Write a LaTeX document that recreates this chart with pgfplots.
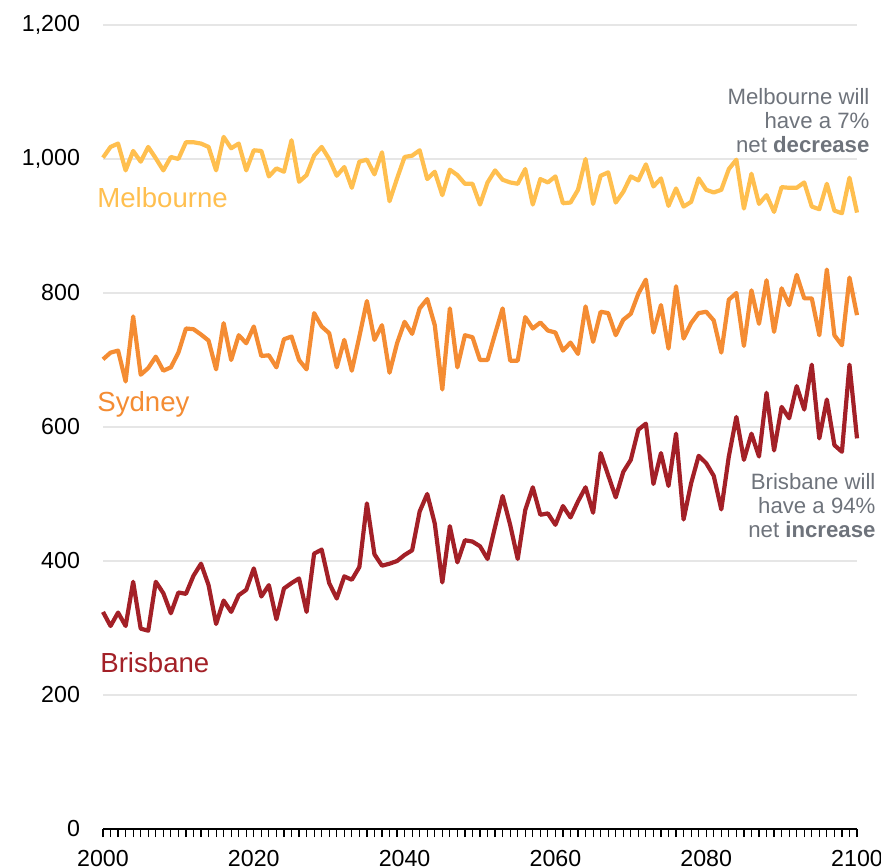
\documentclass[border=0pt]{standalone}
\usepackage{pgfplots}
\pgfplotsset{compat=1.18}
\usepackage{pgfplotstable}
\usepackage{fontspec}
\setmainfont{Liberation Sans}
\definecolor{mel}{HTML}{FFBF4F}
\definecolor{syd}{HTML}{F48C33}
\definecolor{bri}{HTML}{A32027}
\definecolor{ann}{HTML}{6E737B}
\definecolor{gridc}{HTML}{E6E6E6}
\pgfplotstableread{
year mel syd bri
2000 1002 701 324
2001 1018 711 303
2002 1023 714 323
2003 983 668 303
2004 1012 765 369
2005 996 678 299
2006 1018 688 296
2007 1001 705 369
2008 983 684 352
2009 1003 689 322
2010 1000 711 353
2011 1025 747 351
2012 1025 746 378
2013 1023 738 396
2014 1018 729 364
2015 983 686 306
2016 1033 755 341
2017 1016 700 324
2018 1023 737 349
2019 983 725 357
2020 1013 750 389
2021 1012 706 347
2022 974 707 364
2023 986 689 313
2024 981 731 359
2025 1028 735 367
2026 966 700 374
2027 976 686 324
2028 1005 770 411
2029 1018 750 417
2030 1000 740 367
2031 975 689 344
2032 988 730 377
2033 957 684 372
2034 996 735 391
2035 999 788 486
2036 977 730 410
2037 1010 752 393
2038 937 681 396
2039 971 725 400
2040 1003 757 409
2041 1005 739 416
2042 1013 777 474
2043 970 791 500
2044 981 752 456
2045 946 656 368
2046 984 777 452
2047 976 689 398
2048 963 737 431
2049 963 734 429
2050 932 700 422
2051 965 700 403
2052 983 739 451
2053 969 777 497
2054 965 699 454
2055 963 699 403
2056 985 764 476
2057 932 747 510
2058 970 756 469
2059 965 744 471
2060 974 741 454
2061 934 714 482
2062 935 726 465
2063 954 709 489
2064 1000 780 510
2065 933 727 472
2066 975 772 561
2067 980 770 528
2068 935 737 495
2069 951 760 533
2070 974 769 551
2071 968 799 596
2072 992 820 605
2073 959 741 515
2074 971 782 561
2075 930 717 512
2076 956 810 590
2077 929 732 462
2078 936 755 516
2079 971 770 557
2080 954 772 546
2081 950 759 527
2082 954 711 477
2083 985 790 556
2084 999 800 615
2085 926 721 551
2086 978 804 590
2087 933 754 556
2088 946 819 651
2089 921 742 565
2090 958 807 630
2091 957 782 613
2092 957 827 661
2093 965 792 626
2094 929 792 693
2095 925 737 583
2096 963 835 641
2097 923 737 573
2098 919 722 563
2099 972 823 693
2100 920 767 583
}\datatable
\begin{document}
\begin{tikzpicture}
\useasboundingbox (-51.5pt,-19pt) rectangle (389pt,414.5pt);
\begin{axis}[
  scale only axis,
  width=377pt, height=402pt,
  xmin=2000, xmax=2100, ymin=0, ymax=1200,
  clip=false,
  axis x line*=bottom, axis y line*=left,
  y axis line style={draw=none},
  x axis line style={black, line width=0.7pt},
  ytick={0,200,...,1200},
  ytick style={draw=none},
  xtick={2000,2020,...,2100},
  minor xtick={2000,2001,...,2100},
  tick align=outside,
  xtick style={black, line width=0.6pt},
  major tick length=4pt, minor tick length=4pt,
  ymajorgrids,
  grid style={gridc, line width=0.6pt},
  /pgf/number format/assume math mode=true,
  tick label style={font=\fontsize{11.6}{13}\selectfont, text=black},
  xticklabel style={/pgf/number format/1000 sep={}, yshift=-3pt},
  yticklabel style={/pgf/number format/1000 sep={,}, xshift=-4pt},
]
\addplot[mel, line width=2.1pt, line join=round] table[x=year, y=mel] {\datatable};
\addplot[syd, line width=2.1pt, line join=round] table[x=year, y=syd] {\datatable};
\addplot[bri, line width=2.1pt, line join=round] table[x=year, y=bri] {\datatable};
\node[anchor=west, text=mel, font=\fontsize{13.8}{16}\selectfont, inner sep=0pt] at (axis cs:1999.2,943) {Melbourne};
\node[anchor=west, text=syd, font=\fontsize{13.8}{16}\selectfont, inner sep=0pt] at (axis cs:1999.2,634) {Sydney};
\node[anchor=west, text=bri, font=\fontsize{13.8}{16}\selectfont, inner sep=0pt] at (axis cs:1999.6,248) {Brisbane};
\node[anchor=east, align=right, text=ann, font=\fontsize{11.1}{12}\selectfont, inner sep=0pt] at (axis cs:2101.7,1057) {Melbourne will\\have a 7\%\\net \textbf{decrease}};
\node[anchor=east, align=right, text=ann, font=\fontsize{11.1}{12}\selectfont, inner sep=0pt] at (axis cs:2102.5,482) {Brisbane will\\have a 94\%\\net \textbf{increase}};
\end{axis}
\end{tikzpicture}
\end{document}
